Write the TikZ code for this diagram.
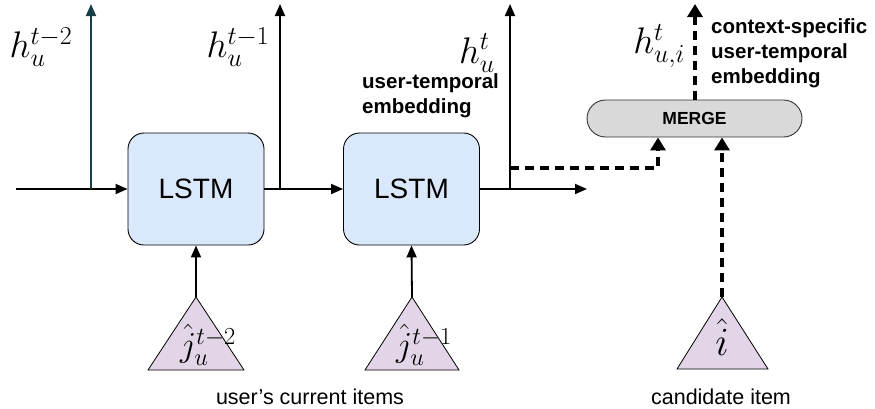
\RequirePackage{fix-cm}
\documentclass[tikz,border=0pt]{standalone}
\usepackage{fontspec}
\setmainfont{Liberation Sans}
\usetikzlibrary{arrows.meta,shapes.misc,calc}

\definecolor{lstmfill}{HTML}{DAE8FC}
\definecolor{itemfill}{HTML}{E1D5E7}
\definecolor{mergefill}{HTML}{D9D9D9}
\definecolor{tealline}{HTML}{153E46}

\tikzset{
  lstmbox/.style={draw=black, line width=0.9pt, fill=lstmfill, rounded corners=16pt,
    minimum width=136pt, minimum height=112pt, inner sep=0pt,
    font=\fontsize{28}{30}\selectfont},
  mergebox/.style={draw=black!80, line width=0.9pt, fill=mergefill, rounded rectangle,
    minimum width=215pt, minimum height=37pt, inner sep=0pt,
    font=\fontsize{17.5}{19}\selectfont\bfseries},
  itemtri/.style={draw=black, line width=0.8pt, fill=itemfill},
  flow/.style={line width=1.8pt, -{Triangle[length=12pt,width=10pt]}},
  dflow/.style={line width=3.5pt, dash pattern=on 9pt off 6pt,
    -{Triangle[length=13pt,width=15pt]}},
  mathlbl/.style={inner sep=0pt, font=\fontsize{37}{40}\selectfont},
  note/.style={inner sep=0pt, align=left, font=\fontsize{20.5}{25}\selectfont\bfseries},
  caption/.style={inner sep=0pt, font=\fontsize{21.5}{24}\selectfont},
}

\begin{document}
\begin{tikzpicture}[x=1pt, y=-1pt]
\useasboundingbox (0,0) rectangle (875,408);

% recurrent cells
\node[lstmbox] (lstm1) at (196,189) {LSTM};
\node[lstmbox] (lstm2) at (411.5,189) {LSTM};

% merge block
\node[mergebox] (merge) at (694.5,118.5) {MERGE};

% item triangles
\coordinate (tri1) at (196,297);
\coordinate (tri2) at (412,297);
\coordinate (tri3) at (722,297);
\path[itemtri] (tri1) -- (244,370) -- (148,370) -- cycle;
\path[itemtri] (tri2) -- (459,370) -- (365,370) -- cycle;
\path[itemtri] (tri3) -- (768,369) -- (677,369) -- cycle;
\node[mathlbl, font=\fontsize{35}{38}\selectfont] (j1) at (208,345) {$\hat{j}_u^{t-2}$};
\node[mathlbl, font=\fontsize{35}{38}\selectfont] (j2) at (424,345) {$\hat{j}_u^{t-1}$};
\node[mathlbl, font=\fontsize{40}{42}\selectfont] (ihat) at (722,337) {$\hat{i}$};

% hidden-state outputs
\coordinate (start) at (16,189);
\coordinate (tap0) at (91,189);
\coordinate (top0) at (91,4);
\coordinate (tap1) at (280,189);
\coordinate (top1) at (280,4);
\coordinate (tap2) at (510,189);
\coordinate (top2) at (510,4);
\coordinate (end) at (587,189);
\coordinate (dstart) at (510,168);
\coordinate (mtop) at (695,4);
\coordinate (min1) at (658,0);

\draw[flow] (start) -- (lstm1.west);
\draw[flow, draw=tealline, fill=tealline] (tap0) -- (top0);
\draw[flow] (lstm1.east) -- (lstm2.west);
\draw[flow] (tap1) -- (top1);
\draw[flow] (lstm2.east) -- (end);
\draw[flow] (tap2) -- (top2);

% item inputs
\draw[flow] (tri1) -- (lstm1.south);
\draw[flow] (tri2) -- (lstm2.south);

% merge inputs and output
\draw[dflow] (dstart) -| (merge.south -| min1);
\draw[dflow] (tri3) -- (merge.south -| tri3);
\draw[dflow] (merge.north -| mtop) -- (mtop);

% labels
\node[mathlbl] (h0) at (41,47) {$h_u^{t-2}$};
\node[mathlbl] (h1) at (238,47) {$h_u^{t-1}$};
\node[mathlbl] (h2) at (477,53) {$h_u^{t}$};
\node[mathlbl] (h3) at (659,46) {$h_{u,i}^{t}$};
\node[note, anchor=west] (ute) at (362,96) {user-temporal\\embedding};
\node[note, anchor=west] (cste) at (711,53) {context-specific\\user-temporal\\embedding};
\node[caption] (cur) at (310,397) {user’s current items};
\node[caption] (cand) at (721,397) {candidate item};
\end{tikzpicture}
\end{document}
